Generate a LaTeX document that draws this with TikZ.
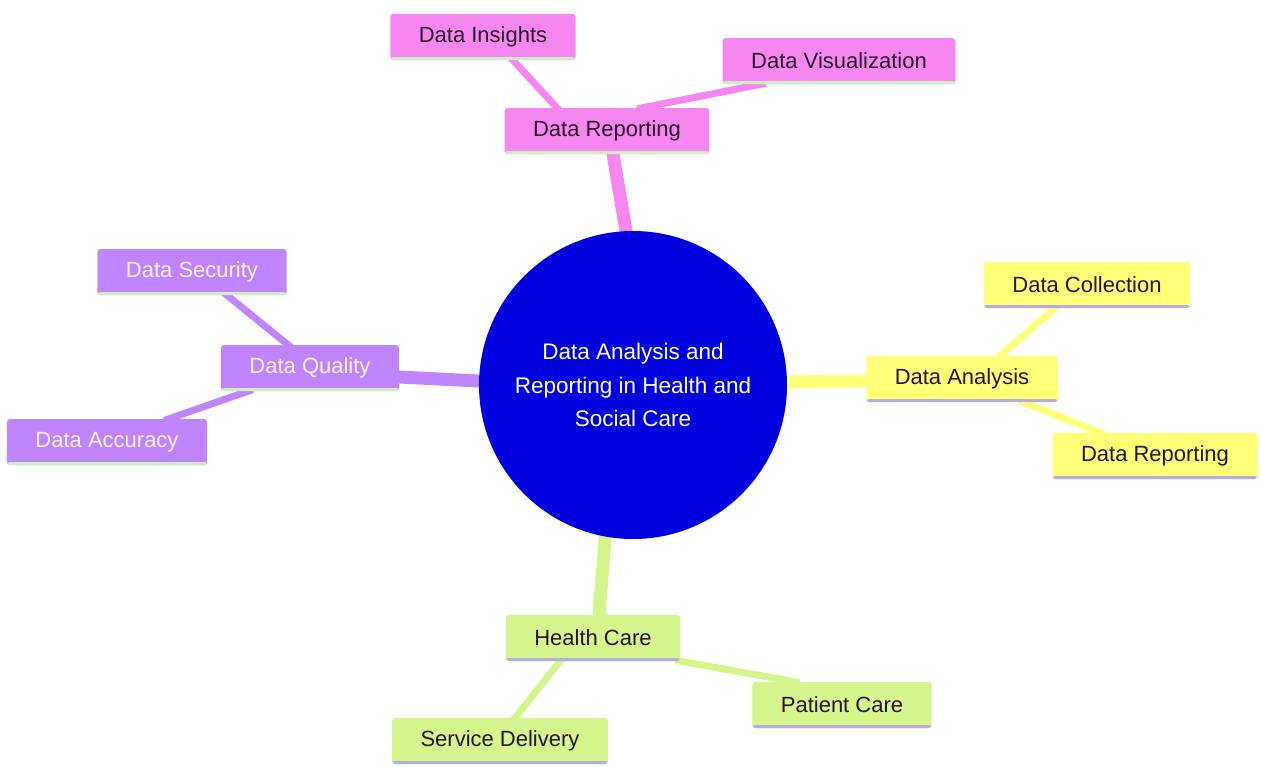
\documentclass[tikz,border=0pt]{standalone}
\usepackage{fontspec}
\setmainfont{Liberation Sans}
\usetikzlibrary{backgrounds}
\definecolor{cpink}{RGB}{247,135,240}
\definecolor{cpurple}{RGB}{192,132,252}
\definecolor{cyellow}{RGB}{255,255,120}
\definecolor{cgreen}{RGB}{214,245,140}
\definecolor{cblue}{RGB}{0,0,222}
\definecolor{bgreen}{RGB}{205,240,195}
\definecolor{blav}{RGB}{180,172,230}
\definecolor{tdark}{RGB}{40,20,40}
\definecolor{tlight}{RGB}{248,240,255}
\tikzset{
  box/.style={rectangle, rounded corners=3pt, minimum height=46pt, inner xsep=28.5pt,
    font=\fontsize{22}{26}\selectfont, text=tdark},
  bbot/.style={path picture={\fill[#1] ([yshift=3pt]path picture bounding box.south west) rectangle (path picture bounding box.south east);}},
  pinkbox/.style={box, fill=cpink, bbot=bgreen},
  purplebox/.style={box, fill=cpurple, bbot=bgreen, text=tlight},
  yellowbox/.style={box, fill=cyellow, bbot=blav},
  greenbox/.style={box, fill=cgreen, bbot=blav},
  mainlink/.style={line width=13pt, shorten <=-6pt, shorten >=-6pt},
  sublink/.style={line width=7pt, shorten <=-5pt, shorten >=-5pt},
}
\begin{document}
\begin{tikzpicture}[x=1pt,y=-1pt]
\useasboundingbox (0,0) rectangle (1261,766);
\node[circle, fill=cblue, minimum size=308pt, inner sep=0pt, text=white, align=center,
  font=\fontsize{22.5}{33.5}\selectfont] (c) at (633,385)
  {Data Analysis and\\Reporting in Health and\\Social Care};
% pink
\node[pinkbox] (dr) at (607,131) {Data Reporting};
\node[pinkbox] (di) at (483,37) {Data Insights};
\node[pinkbox] (dv) at (839,61) {Data Visualization};
% purple
\node[purplebox] (dq) at (310,368) {Data Quality};
\node[purplebox] (ds) at (192,272) {Data Security};
\node[purplebox] (da) at (107,442) {Data Accuracy};
% yellow
\node[yellowbox] (an) at (962,379) {Data Analysis};
\node[yellowbox] (co) at (1087,285) {Data Collection};
\node[yellowbox] (rp) at (1155,456) {Data Reporting};
% green
\node[greenbox] (hc) at (593,638) {Health Care};
\node[greenbox] (sd) at (500,741) {Service Delivery};
\node[greenbox] (pc) at (842,705) {Patient Care};
\begin{scope}[on background layer]
\draw[cpink, mainlink] ([xshift=-7pt]c.north) -- ([xshift=6pt]dr.south);
\draw[cpink, sublink] ([xshift=-50pt]dr.north) -- ([xshift=30pt]di.south);
\draw[cpink, sublink] ([xshift=35pt]dr.north) -- ([xshift=-78pt]dv.south);
\draw[cpurple, mainlink] ([yshift=4pt]c.west) -- ([yshift=-9pt]dq.east);
\draw[cpurple, sublink] ([xshift=-22pt]dq.north) -- ([xshift=35pt]ds.south);
\draw[cpurple, sublink] ([xshift=-62pt]dq.south) -- ([xshift=62pt]da.north);
\draw[cyellow, mainlink] ([yshift=3pt]c.east) -- ([yshift=-2pt]an.west);
\draw[cyellow, sublink] ([xshift=38pt]an.north) -- ([xshift=-32pt]co.south);
\draw[cyellow, sublink] ([xshift=62pt]an.south) -- ([xshift=-55pt]rp.north);
\draw[cgreen, mainlink] ([xshift=-28pt]c.south) -- ([xshift=6pt]hc.north);
\draw[cgreen, sublink] ([xshift=-33pt]hc.south) -- ([xshift=15pt]sd.north);
\draw[cgreen, sublink] (hc.south east) -- ([xshift=-47pt]pc.north);
\end{scope}
\end{tikzpicture}
\end{document}
